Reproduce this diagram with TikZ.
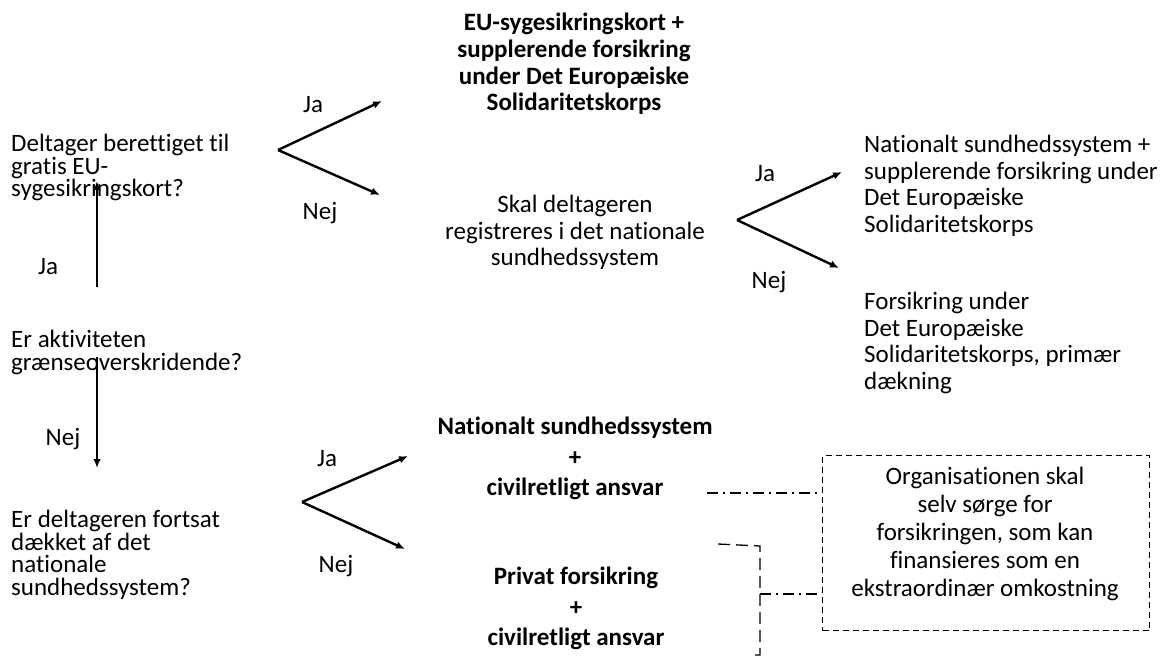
\documentclass[tikz,border=0pt]{standalone}
\usepackage{fontspec}
\setmainfont{Carlito}[Ligatures=CommonOff]
\usetikzlibrary{arrows.meta,calc}
\begin{document}
\begin{tikzpicture}[x=1pt,y=-1pt,
  txt/.style={inner sep=0pt, font=\fontsize{25}{26.7}\selectfont},
  lefttxt/.style={txt, align=left, anchor=north west, font=\fontsize{25}{22.6}\selectfont},
  midtxt/.style={txt, align=center, anchor=north},
  boldtxt/.style={txt, align=center, anchor=north, font=\fontsize{25}{26.7}\selectfont\bfseries},
  boldtxtwide/.style={txt, align=center, anchor=north, font=\fontsize{25}{30.5}\selectfont\bfseries},
  righttxt/.style={txt, align=left, anchor=north west},
  lbl/.style={txt, anchor=center},
  arr/.style={line width=2.4pt, -{Latex[length=9pt,width=7.5pt]}},
  dashdot/.style={line width=1.3pt, dash pattern=on 11pt off 5pt on 2pt off 5pt},
  longdash/.style={line width=1.3pt, dash pattern=on 12pt off 6pt},
  boxst/.style={draw, line width=1.3pt, dash pattern=on 6pt off 4pt, inner sep=0pt, anchor=north west}
]
\useasboundingbox (0,0) rectangle (1162,657);

% left questions
\node[lefttxt] (q1) at (11,134) {Deltager berettiget til\\gratis EU-\\sygesikringskort?};
\node[lefttxt] (q2) at (11,330) {Er aktiviteten\\grænseoverskridende?};
\node[lefttxt] (q3) at (11,510) {Er deltageren fortsat\\dækket af det\\nationale\\sundhedssystem?};

% middle texts
\node[boldtxt] (a1) at (574,13) {EU-sygesikringskort +\\supplerende forsikring\\under Det Europæiske\\Solidaritetskorps};
\node[midtxt] (a2) at (575,195) {Skal deltageren\\registreres i det nationale\\sundhedssystem};
\node[boldtxtwide] (b1) at (575,417) {Nationalt sundhedssystem\\+\\civilretligt ansvar};
\node[boldtxtwide] (b2) at (576,567) {Privat forsikring\\+\\civilretligt ansvar};

% right texts
\node[righttxt] (r1) at (864,135) {Nationalt sundhedssystem +\\supplerende forsikring under\\Det Europæiske\\Solidaritetskorps};
\node[righttxt] (r2) at (864,292) {Forsikring under\\Det Europæiske\\Solidaritetskorps, primær\\dækning};

% dashed box
\node[boxst, minimum width=327pt, minimum height=175pt] (box) at (822,455) {};
\node[txt, align=center, anchor=north, font=\fontsize{25}{28}\selectfont] (boxtext) at (985,467)
  {Organisationen skal\\selv sørge for\\forsikringen, som kan\\finansieres som en\\ekstraordinær omkostning};

% labels
\node[lbl] (ja1) at (313,105) {Ja};
\node[lbl] (nej1) at (320,213) {Nej};
\node[lbl] (ja0) at (48,267) {Ja};
\node[lbl] (nej0) at (63,439) {Nej};
\node[lbl] (ja2) at (765,174) {Ja};
\node[lbl] (nej2) at (769,282) {Nej};
\node[lbl] (ja3) at (327,459) {Ja};
\node[lbl] (nej3) at (336,566) {Nej};

% arrow coordinates
\coordinate (v1) at (278,150);
\coordinate (v1a) at (382,101);
\coordinate (v1b) at (380,195);
\coordinate (u0) at (97,287);
\coordinate (u1) at (97,181);
\coordinate (d0) at (97,357);
\coordinate (d1) at (97,468);
\coordinate (v2) at (737,220);
\coordinate (v2a) at (842,172);
\coordinate (v2b) at (839,268);
\coordinate (v3) at (302,502);
\coordinate (v3a) at (408,456);
\coordinate (v3b) at (405,549);

\draw[arr] (v1) -- (v1a);
\draw[arr] (v1) -- (v1b);
\draw[arr] (u0) -- (u1);
\draw[arr] (d0) -- (d1);
\draw[arr] (v2) -- (v2a);
\draw[arr] (v2) -- (v2b);
\draw[arr] (v3) -- (v3a);
\draw[arr] (v3) -- (v3b);

% dash-dot connectors
\coordinate (c1) at (707,493);
\draw[dashdot] (c1) -- (c1 -| box.west);
\coordinate (k1) at (718,544);
\coordinate (k2) at (760,546);
\coordinate (k3) at (760,655);
\coordinate (k4) at (753,655);
\draw[longdash] (k1) -- (k2) -- (k3) -- (k4);
\coordinate (km) at (760,594);
\draw[dashdot] (km) -- (km -| box.west);
\end{tikzpicture}
\end{document}
